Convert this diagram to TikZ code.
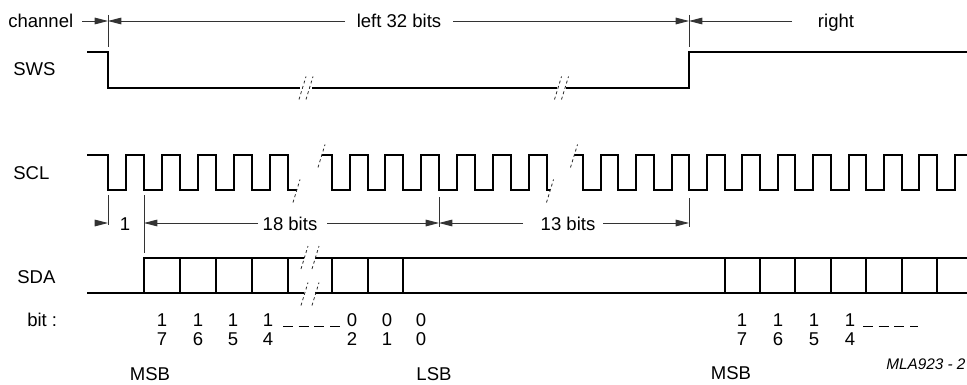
\documentclass[tikz,border=0pt]{standalone}
\usepackage{fontspec}
\setmainfont{Liberation Sans}
\usetikzlibrary{arrows.meta}
\begin{document}
\begin{tikzpicture}[x=0.75pt,y=-0.75pt,
  sig/.style={line width=1.5pt, line join=miter, line cap=butt},
  dim/.style={line width=0.7pt, draw=black!80},
  tip/.style={-{Triangle[length=10pt,width=5pt]}},
  brk/.style={line width=0.6pt, dash pattern=on 2.2pt off 2pt, draw=black!85},
  brkm/.pic={\draw[brk] (-3.5,11.5) -- (3.5,-11.5);},
  txt/.style={font=\fontsize{13.9pt}{16pt}\selectfont, inner sep=0pt},
  lbl/.style={txt, anchor=base west},
  ctr/.style={txt, anchor=base},
  dotsl/.style={line width=0.75pt, dash pattern=on 7.5pt off 4.25pt}
]
\useasboundingbox (0,0) rectangle (967,385);

% ---- signal names
\node[lbl] (chan) at (8,28) {channel};
\node[lbl] (sws) at (13,76) {SWS};
\node[lbl] (scl) at (13,179) {SCL};
\node[lbl] (sda) at (17,283) {SDA};
\node[lbl] (bit) at (27,326) {bit :};

% ---- channel dimension row
\coordinate (chA) at (82,21);
\coordinate (tA) at (108,21);
\coordinate (tB) at (689,21);
\coordinate (l32L) at (345,21);
\coordinate (l32R) at (453,21);
\coordinate (rtL) at (792,21);
\node[ctr] (l32) at (399,28) {left 32 bits};
\node[ctr] (rt) at (836,28) {right};
\draw[dim,tip] (chA) -- (tA);
\draw[dim,tip] (l32L) -- (tA);
\draw[dim,tip] (l32R) -- (tB);
\draw[dim,tip] (rtL) -- (tB);
\coordinate (tAt) at (108,15); \coordinate (tAb) at (108,47);
\coordinate (tBt) at (689,15); \coordinate (tBb) at (689,47);
\draw[dim] (tAt) -- (tAb);
\draw[dim] (tBt) -- (tBb);

% ---- SWS
\draw[sig] (87,52) -- (108,52) -- (108,88) -- (300,88);
\draw[sig] (312,88) -- (557,88);
\draw[sig] (566,88) -- (689,88) -- (689,52) -- (967,52);
\pic at (302.5,88) {brkm};
\pic at (309.5,88) {brkm};
\pic at (558,88) {brkm};
\pic at (565,88) {brkm};

% ---- SCL
\draw[sig] (87,155) -- (108,155) -- (108,190)
  \foreach \i in {0,...,4}{
    -- ({108+36*\i+18},190) -- ({108+36*\i+18},155)
    -- ({108+36*(\i+1)},155) -- ({108+36*(\i+1)},190) }
  -- (297,190);
\draw[sig] (321.5,155) -- (331.7,155) -- (331.7,190)
  \foreach \i in {0,...,5}{
    -- ({331.7+35.83*\i+17.9},190) -- ({331.7+35.83*\i+17.9},155)
    -- ({331.7+35.83*(\i+1)},155) -- ({331.7+35.83*(\i+1)},190) }
  -- (550,190);
\draw[sig] (574,155) -- (583,155) -- (583,190)
  \foreach \i in {0,...,9}{
    -- ({583+35.4*\i+17.7},190) -- ({583+35.4*\i+17.7},155)
    -- ({583+35.4*(\i+1)},155) -- ({583+35.4*(\i+1)},190) }
  -- (954.7,190) -- (954.7,155) -- (967,155);
\pic at (296.5,191) {brkm};
\pic at (321.5,156) {brkm};
\pic at (550,191) {brkm};
\pic at (574,156) {brkm};

% ---- bit-count dimension row
\coordinate (u1) at (95,223);
\coordinate (k108) at (108,223);
\coordinate (k144) at (144,223);
\coordinate (k439) at (439,223);
\coordinate (k689) at (689,223);
\coordinate (e18L) at (258,223);
\coordinate (e18R) at (327,223);
\coordinate (e13L) at (523,223);
\coordinate (e13R) at (603,223);
\node[ctr] (one) at (125,230) {1};
\node[ctr] (b18) at (290,230) {18 bits};
\node[ctr] (b13) at (568,230) {13 bits};
\draw[dim,tip] (u1) -- (k108);
\draw[dim,tip] (e18L) -- (k144);
\draw[dim,tip] (e18R) -- (k439);
\draw[dim,tip] (e13L) -- (k439);
\draw[dim,tip] (e13R) -- (k689);
\draw[dim] (108,195) -- (108,225);
\draw[dim] (144,195) -- (144,253);
\draw[dim] (439,197) -- (439,227);
\draw[dim] (689,198) -- (689,227);

% ---- SDA
\draw[sig] (87,293) -- (304,293);
\draw[sig] (144,293) -- (144,258) -- (304,258);
\draw[sig] (315,258) -- (967,258);
\draw[sig] (315,293) -- (967,293);
\foreach \x in {180,216,252,288,331.7,367.5,403.4,724.6,760,795.4,830.8,866.2,901.6,937}
  \draw[sig] (\x,258) -- (\x,293);
\pic at (304.5,257.5) {brkm};
\pic at (315.5,257.5) {brkm};
\pic at (304.5,294) {brkm};
\pic at (315.5,294) {brkm};

% ---- bit numbers
\foreach \x/\a/\b [count=\n] in {162/1/7,198/1/6,233/1/5,268/1/4,352/0/2,387/0/1,421/0/0,742/1/7,778/1/6,814/1/5,850/1/4}{
  \node[ctr] (bt\n) at (\x,326) {\a};
  \node[ctr] (bb\n) at (\x,345) {\b};
}
\draw[dotsl] (283,326) -- (340,326);
\draw[dotsl] (863,326) -- (918,326);

\node[ctr] (msb1) at (150,380) {MSB};
\node[ctr] (lsb) at (434,380) {LSB};
\node[ctr] (msb2) at (731,379) {MSB};
\node[anchor=base west, inner sep=0pt, font=\fontsize{11.5pt}{13pt}\selectfont\itshape] (mla) at (886,369) {MLA923 - 2};
\end{tikzpicture}
\end{document}
